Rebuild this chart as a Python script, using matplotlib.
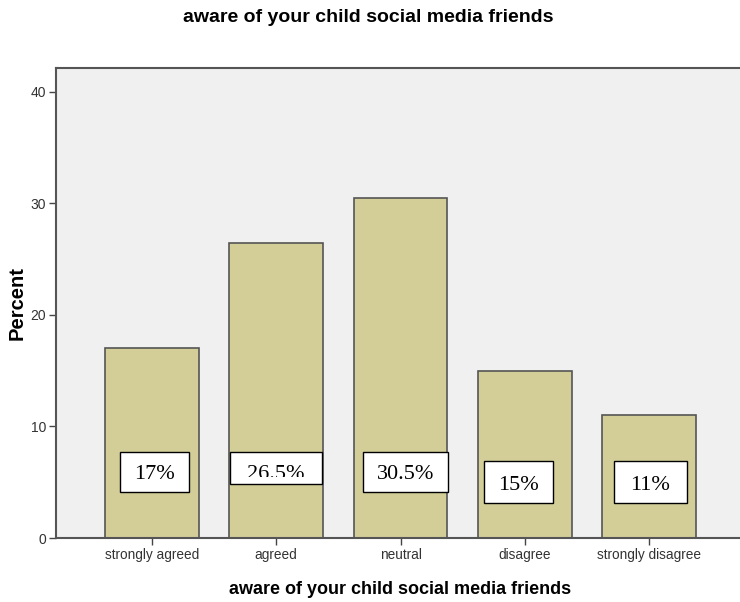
import matplotlib
matplotlib.use("Agg")
import matplotlib.pyplot as plt
from matplotlib.patches import Rectangle
from matplotlib.transforms import Bbox, TransformedBbox

categories = ["strongly agreed", "agreed", "neutral", "disagree", "strongly disagree"]
percent = [17, 26.5, 30.5, 15, 11]
labels = ["17%", "26.5%", "30.5%", "15%", "11%"]
yticks = [0, 10, 20, 30, 40]

# label box layout (x offset from bar centre, bottom, top, width) in data units
box_dx = [0.02, 0.0, 0.04, -0.05, 0.01]
box_bottom = [4.12, 4.83, 4.12, 3.13, 3.13]
box_top = [7.70, 7.70, 7.70, 6.89, 6.89]
box_w = [0.56, 0.74, 0.68, 0.55, 0.59]
text_clip_bottom = [4.12, 5.45, 4.12, 3.13, 3.13]
text_y = [5.65, 5.65, 5.65, 4.75, 4.75]

W, H = 740, 602
fig = plt.figure(figsize=(W / 100, H / 100), dpi=100)
ax = fig.add_axes([56 / W, (H - 538) / H, (745 - 56) / W, (538 - 68) / H])
ax.set_facecolor("#F0F0F0")

x = list(range(len(categories)))
ax.bar(x, percent, width=0.755, color="#D3CE98", edgecolor="#555555", linewidth=1.2, zorder=2)

for i in x:
    cx = i + box_dx[i]
    x0 = cx - box_w[i] / 2
    rect = Rectangle((x0, box_bottom[i]), box_w[i], box_top[i] - box_bottom[i],
                     facecolor="white", edgecolor="black", linewidth=1.0, zorder=3)
    ax.add_patch(rect)
    t = ax.text(cx, text_y[i], labels[i], ha="center", va="center", fontsize=16,
                family="Liberation Serif", color="black", zorder=4)
    t.set_clip_box(TransformedBbox(Bbox([[x0, text_clip_bottom[i]], [x0 + box_w[i], box_top[i]]]),
                                   ax.transData))
    t.set_clip_on(True)

ax.set_xlim(-0.772, 4.772)
ax.set_ylim(0, 42.15)
ax.set_xticks(x)
ax.set_xticklabels(categories, fontsize=9.8, color="#333333", family="Liberation Sans")
ax.set_yticks(yticks)
ax.set_yticklabels([str(v) for v in yticks], fontsize=10, color="#333333", family="Liberation Sans")
ax.tick_params(axis="both", length=5, width=1.0, color="#444444", pad=2)

for s in ["left", "bottom", "top"]:
    ax.spines[s].set_color("#555555")
    ax.spines[s].set_linewidth(1.5)
ax.spines["right"].set_visible(False)

ax.set_ylabel("Percent", fontsize=14.5, fontweight="bold", family="Liberation Sans")
ax.yaxis.label.set_va("center")
ax.yaxis.set_label_coords(-(56 - 17) / (745 - 56), 0.5)
ax.set_xlabel("aware of your child social media friends", fontsize=13, fontweight="bold",
              family="Liberation Sans")
ax.xaxis.set_label_coords(0.5 - (56 + 689 / 2 - 400) / 689, -(590 - 538) / (538 - 68))
ax.xaxis.label.set_va("center")
fig.text(368 / W, 1 - 17 / H, "aware of your child social media friends", ha="center", va="center",
         fontsize=14, fontweight="bold", family="Liberation Sans")

fig.savefig("out.png", dpi=100)
